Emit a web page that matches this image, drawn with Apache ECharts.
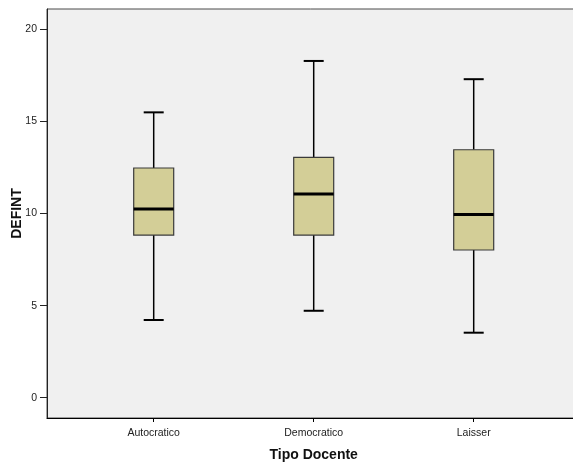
<!DOCTYPE html>
<html>
<head>
<meta charset="utf-8">
<script src="https://cdn.jsdelivr.net/npm/echarts@6/dist/echarts.min.js"></script>
<style>
html,body{margin:0;padding:0;background:#fff;}
#c{width:573px;height:463px;}
</style>
</head>
<body>
<div id="c"></div>
<script>
// Data
var categories = ['Autocratico', 'Democratico', 'Laisser'];
var whiskerLow = [4.22, 4.72, 3.53];
var quartile1  = [8.83, 8.83, 8.02];
var medians    = [10.24, 11.06, 9.94];
var quartile3  = [12.47, 13.05, 13.46];
var whiskerHigh= [15.49, 18.28, 17.29];
var yTicks = [0, 5, 10, 15, 20];
var yMin = -1.1, yMax = 21.1;

var boxData = categories.map(function (c, i) {
  return [i, whiskerLow[i], quartile1[i], medians[i], quartile3[i], whiskerHigh[i]];
});

var FONT = '"Liberation Sans", Arial, sans-serif';

function renderBox(params, api) {
  var i = api.value(0);
  var pLow = api.coord([i, api.value(1)]);
  var pQ1 = api.coord([i, api.value(2)]);
  var pMed = api.coord([i, api.value(3)]);
  var pQ3 = api.coord([i, api.value(4)]);
  var pHigh = api.coord([i, api.value(5)]);
  var band = api.size([1, 0])[0];
  var hw = band * 0.125;
  var cw = hw / 2;
  var x = pMed[0];
  var lineStyle = { stroke: '#000', lineWidth: 1.5 };
  return {
    type: 'group',
    children: [
      { type: 'line', shape: { x1: x, y1: pHigh[1], x2: x, y2: pQ3[1] }, style: lineStyle },
      { type: 'line', shape: { x1: x, y1: pQ1[1], x2: x, y2: pLow[1] }, style: lineStyle },
      { type: 'line', shape: { x1: x - cw, y1: pHigh[1], x2: x + cw, y2: pHigh[1] }, style: { stroke: '#000', lineWidth: 2 } },
      { type: 'line', shape: { x1: x - cw, y1: pLow[1], x2: x + cw, y2: pLow[1] }, style: { stroke: '#000', lineWidth: 2 } },
      { type: 'rect', shape: { x: x - hw, y: pQ3[1], width: hw * 2, height: pQ1[1] - pQ3[1] },
        style: { fill: '#d3ce97', stroke: '#3a3a3a', lineWidth: 1.2 } },
      { type: 'line', shape: { x1: x - hw, y1: pMed[1], x2: x + hw, y2: pMed[1] }, style: { stroke: '#000', lineWidth: 3 } }
    ]
  };
}

var chart = echarts.init(document.getElementById('c'), null, { renderer: 'canvas' });
chart.setOption({
  animation: false,
  backgroundColor: '#ffffff',
  grid: [
    { left: 47, top: 9, right: -10, bottom: 45, show: true, backgroundColor: '#f0f0f0', borderColor: '#4a4a4a', borderWidth: 1,
      containLabel: false, outerBoundsMode: 'none' },
    { left: 73.7, top: 9, width: 480, bottom: 45, containLabel: false, outerBoundsMode: 'none' }
  ],
  xAxis: [
    { gridIndex: 0, type: 'value', min: 0, max: 1, position: 'bottom',
      axisLine: { show: true, onZero: false, lineStyle: { color: '#000', width: 1.2 } },
      axisTick: { show: false }, axisLabel: { show: false }, splitLine: { show: false } },
    { gridIndex: 1, type: 'category', data: categories, position: 'bottom',
      axisLine: { show: false, onZero: false },
      axisTick: { show: true, alignWithLabel: true, length: 4, lineStyle: { color: '#000' } },
      axisLabel: { margin: 10, fontSize: 10.5, color: '#222', fontFamily: FONT },
      splitLine: { show: false },
      name: 'Tipo Docente', nameLocation: 'middle', nameGap: 30, nameMoveOverlap: false,
      nameTextStyle: { fontSize: 14, fontWeight: 'bold', color: '#111', fontFamily: FONT } }
  ],
  yAxis: [
    { gridIndex: 0, type: 'value', min: yMin, max: yMax, position: 'left',
      axisLine: { show: true, onZero: false, lineStyle: { color: '#222' } },
      axisTick: { show: true, length: 7, customValues: yTicks, lineStyle: { color: '#222' } },
      axisLabel: { customValues: yTicks, margin: 10, fontSize: 10.5, color: '#222', fontFamily: FONT },
      splitLine: { show: false },
      name: 'DEFINT', nameLocation: 'middle', nameGap: 23, nameMoveOverlap: false,
      nameTextStyle: { fontSize: 14, fontWeight: 'bold', color: '#111', fontFamily: FONT } },
    { gridIndex: 1, type: 'value', min: yMin, max: yMax, show: false }
  ],
  series: [{
    type: 'custom',
    xAxisIndex: 1, yAxisIndex: 1,
    renderItem: renderBox,
    encode: { x: 0, y: [1, 2, 3, 4, 5] },
    data: boxData
  }]
});
</script>
</body>
</html>
